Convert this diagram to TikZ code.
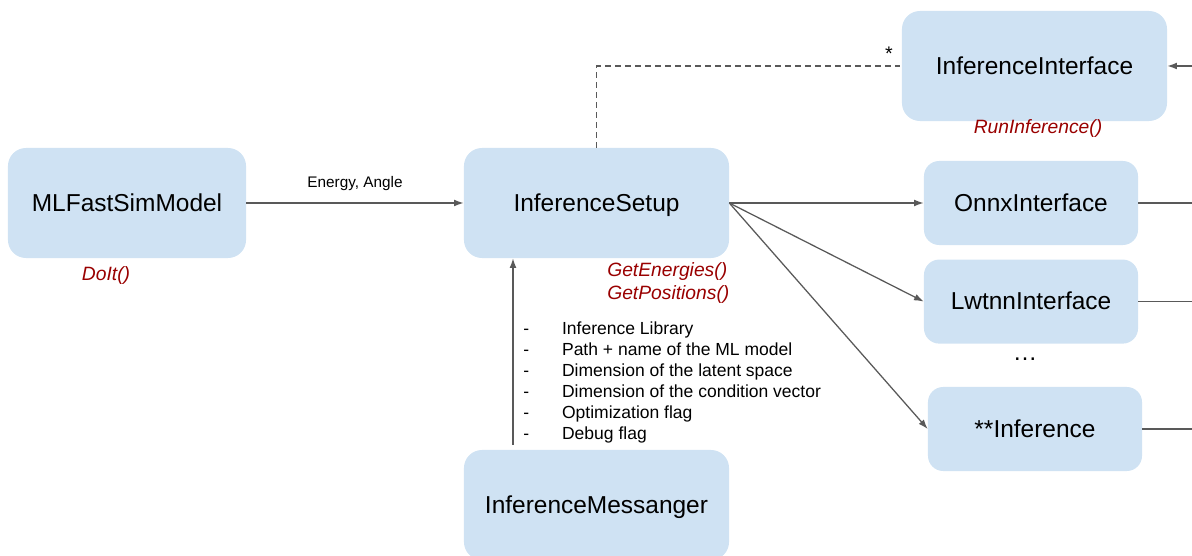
\documentclass[tikz,border=0pt]{standalone}
\usepackage{fontspec}
\setmainfont{Liberation Sans}
\usetikzlibrary{arrows.meta,positioning}
\definecolor{boxfill}{HTML}{CFE2F3}
\definecolor{linegray}{HTML}{595959}
\definecolor{methred}{HTML}{990000}
\newcommand{\itm}[1]{\makebox[0.97cm][l]{-}#1}
\tikzset{
  card/.style={fill=boxfill, rounded corners=0.45cm, minimum width=6.625cm,
               minimum height=2.75cm, font=\fontsize{17.4}{20}\selectfont, inner sep=0pt,
               text depth=1pt},
  smallcard/.style={card, rounded corners=0.38cm, minimum width=5.35cm, minimum height=2.1cm},
  method/.style={font=\fontsize{13.7}{16.3}\selectfont\itshape, text=methred,
                 inner sep=0pt, align=left},
  arrow/.style={-{Latex[length=2.4mm,width=1.7mm]}, line width=.9pt, draw=linegray},
  plainline/.style={line width=.9pt, draw=linegray},
  link/.style={line width=.9pt, draw=linegray, dash pattern=on 1.5mm off 1mm},
  lbl/.style={font=\fontsize{10.9}{13}\selectfont, inner sep=0pt},
  params/.style={font=\fontsize{12.45}{14.9}\selectfont, align=left, inner sep=0pt}
}
\begin{document}
\begin{tikzpicture}[x=0.025cm, y=-0.025cm]
  \useasboundingbox (0,0) rectangle (1192,556);
  % boxes
  \node[card, minimum width=5.95cm] (ml) at (127,203) {MLFastSimModel};
  \node[card] (setup) at (596.5,203) {InferenceSetup};
  \node[card] (iface) at (1034.5,66) {InferenceInterface};
  \node[smallcard] (onnx) at (1031,203) {OnnxInterface};
  \node[smallcard, below=0.35cm of onnx] (lwtnn) {LwtnnInterface};
  \node[smallcard] (other) at (1035,429) {**Inference};
  \node[card] (msg) at (596.5,505) {InferenceMessanger};
  \node[font=\fontsize{17.4}{20}\selectfont, inner sep=0pt] (dots) at (1025,359) {\ldots};

  % method names
  \node[method] (doit) at (106,276) {DoIt()};
  \node[method, anchor=north west] (getters) at (607,262) {GetEnergies()\\GetPositions()};
  \node[method] (run) at (1038,129) {RunInference()};
  \node[params, anchor=north west] (params) at (523,321.5)
       {\itm{Inference Library}\\\itm{Path + name of the ML model}\\
        \itm{Dimension of the latent space}\\\itm{Dimension of the condition vector}\\
        \itm{Optimization flag}\\\itm{Debug flag}};

  % connectors
  \draw[arrow] (ml) -- node[lbl, above=0.28cm] (ea) {Energy, Angle} (setup);
  \draw[arrow] (setup.east) -- (onnx.west);
  \draw[arrow] (setup.east) -- (lwtnn.west);
  \draw[arrow] (setup.east) -- (other.west);
  \draw[link] (setup.north) |- ([xshift=-0.05cm]iface.west);
  \node[font=\fontsize{14}{16}\selectfont, inner sep=0pt] (star) at (889,54) {*};
  \coordinate (rim) at (1192,66);
  \draw[arrow] (rim) -- (iface.east);
  \draw[plainline] (onnx.east) -- (onnx.east -| rim);
  \draw[plainline] (lwtnn.east) -- (lwtnn.east -| rim);
  \draw[plainline] (other.east) -- (other.east -| rim);
  \coordinate (up) at (513,445);
  \draw[arrow] (up) -- (up |- setup.south);
\end{tikzpicture}
\end{document}
